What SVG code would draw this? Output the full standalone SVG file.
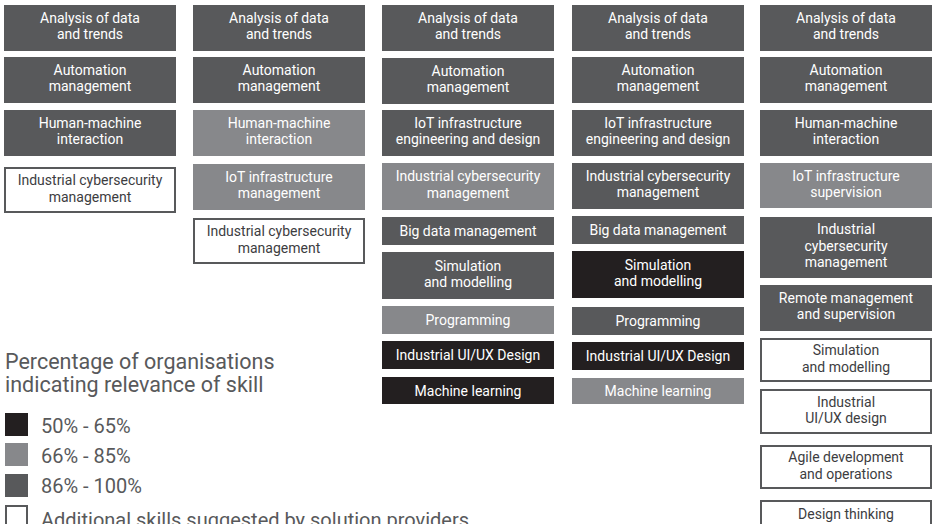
<svg xmlns="http://www.w3.org/2000/svg" width="933" height="524" viewBox="0 0 933 524">
<style>
text{font-family:Roboto,"Liberation Sans",sans-serif;font-size:14px;text-anchor:middle}
.d{fill:#58595b}.m{fill:#87888b}.b{fill:#231f20}
.o{fill:#fff;stroke:#58595b;stroke-width:2}
.w{fill:#fff}.t{fill:#3d3d3f}
.lg{font-size:20px;fill:#58595b;text-anchor:start}
.lt{font-size:21.5px}
</style>
<rect width="933" height="524" fill="#fff"/>
<!-- Column 1 -->
<g id="c1-analysis"><rect class="d" x="4" y="5" width="172" height="46"/><text class="w" x="90" y="22.5">Analysis of data</text><text class="w" x="90" y="39">and trends</text></g>
<g id="c1-automation"><rect class="d" x="4" y="57" width="172" height="46"/><text class="w" x="90" y="74.5">Automation</text><text class="w" x="90" y="91">management</text></g>
<g id="c1-hmi"><rect class="d" x="4" y="110" width="172" height="46"/><text class="w" x="90" y="127.5">Human-machine</text><text class="w" x="90" y="144">interaction</text></g>
<g id="c1-cyber"><rect class="o" x="5" y="168" width="170" height="44"/><text class="t" x="90" y="185">Industrial cybersecurity</text><text class="t" x="90" y="201.5">management</text></g>
<!-- Column 2 -->
<g id="c2-analysis"><rect class="d" x="193" y="5" width="172" height="46"/><text class="w" x="279" y="22.5">Analysis of data</text><text class="w" x="279" y="39">and trends</text></g>
<g id="c2-automation"><rect class="d" x="193" y="57" width="172" height="46"/><text class="w" x="279" y="74.5">Automation</text><text class="w" x="279" y="91">management</text></g>
<g id="c2-hmi"><rect class="m" x="193" y="110" width="172" height="46"/><text class="w" x="279" y="127.5">Human-machine</text><text class="w" x="279" y="144">interaction</text></g>
<g id="c2-iot"><rect class="m" x="193" y="164" width="172" height="46"/><text class="w" x="279" y="181.5">IoT infrastructure</text><text class="w" x="279" y="198">management</text></g>
<g id="c2-cyber"><rect class="o" x="194" y="219" width="170" height="44"/><text class="t" x="279" y="236">Industrial cybersecurity</text><text class="t" x="279" y="252.5">management</text></g>
<!-- Column 3 -->
<g id="c3-analysis"><rect class="d" x="382" y="5" width="172" height="46"/><text class="w" x="468" y="22.5">Analysis of data</text><text class="w" x="468" y="39">and trends</text></g>
<g id="c3-automation"><rect class="d" x="382" y="58" width="172" height="46"/><text class="w" x="468" y="75.5">Automation</text><text class="w" x="468" y="92">management</text></g>
<g id="c3-iot"><rect class="d" x="382" y="110" width="172" height="46"/><text class="w" x="468" y="127.5">IoT infrastructure</text><text class="w" x="468" y="144">engineering and design</text></g>
<g id="c3-cyber"><rect class="m" x="382" y="163" width="172" height="47"/><text class="w" x="468" y="181">Industrial cybersecurity</text><text class="w" x="468" y="197.5">management</text></g>
<g id="c3-bigdata"><rect class="d" x="382" y="217" width="172" height="28"/><text class="w" x="468" y="236">Big data management</text></g>
<g id="c3-sim"><rect class="d" x="382" y="252" width="172" height="47"/><text class="w" x="468" y="270.5">Simulation</text><text class="w" x="468" y="287">and modelling</text></g>
<g id="c3-prog"><rect class="m" x="382" y="306" width="172" height="28"/><text class="w" x="468" y="325">Programming</text></g>
<g id="c3-uiux"><rect class="b" x="382" y="341" width="172" height="28"/><text class="w" x="468" y="360">Industrial UI/UX Design</text></g>
<g id="c3-ml"><rect class="b" x="382" y="377" width="172" height="27"/><text class="w" x="468" y="395.5">Machine learning</text></g>
<!-- Column 4 -->
<g id="c4-analysis"><rect class="d" x="572" y="5" width="172" height="46"/><text class="w" x="658" y="22.5">Analysis of data</text><text class="w" x="658" y="39">and trends</text></g>
<g id="c4-automation"><rect class="d" x="572" y="57" width="172" height="46"/><text class="w" x="658" y="74.5">Automation</text><text class="w" x="658" y="91">management</text></g>
<g id="c4-iot"><rect class="d" x="572" y="110" width="172" height="46"/><text class="w" x="658" y="127.5">IoT infrastructure</text><text class="w" x="658" y="144">engineering and design</text></g>
<g id="c4-cyber"><rect class="d" x="572" y="163" width="172" height="46"/><text class="w" x="658" y="180.5">Industrial cybersecurity</text><text class="w" x="658" y="197">management</text></g>
<g id="c4-bigdata"><rect class="d" x="572" y="216" width="172" height="28"/><text class="w" x="658" y="235">Big data management</text></g>
<g id="c4-sim"><rect class="b" x="572" y="251" width="172" height="47"/><text class="w" x="658" y="269.5">Simulation</text><text class="w" x="658" y="286">and modelling</text></g>
<g id="c4-prog"><rect class="d" x="572" y="307" width="172" height="28"/><text class="w" x="658" y="326">Programming</text></g>
<g id="c4-uiux"><rect class="b" x="572" y="342" width="172" height="28"/><text class="w" x="658" y="361">Industrial UI/UX Design</text></g>
<g id="c4-ml"><rect class="m" x="572" y="378" width="172" height="26"/><text class="w" x="658" y="396">Machine learning</text></g>
<!-- Column 5 -->
<g id="c5-analysis"><rect class="d" x="760" y="5" width="172" height="46"/><text class="w" x="846" y="22.5">Analysis of data</text><text class="w" x="846" y="39">and trends</text></g>
<g id="c5-automation"><rect class="d" x="760" y="57" width="172" height="46"/><text class="w" x="846" y="74.5">Automation</text><text class="w" x="846" y="91">management</text></g>
<g id="c5-hmi"><rect class="d" x="760" y="110" width="172" height="46"/><text class="w" x="846" y="127.5">Human-machine</text><text class="w" x="846" y="144">interaction</text></g>
<g id="c5-iot"><rect class="m" x="760" y="163" width="172" height="45"/><text class="w" x="846" y="180.5">IoT infrastructure</text><text class="w" x="846" y="197">supervision</text></g>
<g id="c5-cyber"><rect class="d" x="760" y="217" width="172" height="61"/><text class="w" x="846" y="234">Industrial</text><text class="w" x="846" y="250.5">cybersecurity</text><text class="w" x="846" y="267">management</text></g>
<g id="c5-remote"><rect class="d" x="760" y="285" width="172" height="46"/><text class="w" x="846" y="302.5">Remote management</text><text class="w" x="846" y="319">and supervision</text></g>
<g id="c5-sim"><rect class="o" x="761" y="339" width="170" height="42"/><text class="t" x="846" y="355">Simulation</text><text class="t" x="846" y="371.5">and modelling</text></g>
<g id="c5-uiux"><rect class="o" x="761" y="390" width="170" height="43"/><text class="t" x="846" y="406.5">Industrial</text><text class="t" x="846" y="423">UI/UX design</text></g>
<g id="c5-agile"><rect class="o" x="761" y="446" width="170" height="42"/><text class="t" x="846" y="462">Agile development</text><text class="t" x="846" y="478.5">and operations</text></g>
<g id="c5-design"><rect class="o" x="761" y="501" width="170" height="26"/><text class="t" x="846" y="518.5">Design thinking</text></g>
<g id="connectors"></g>
<!-- Legend -->
<g id="legend">
<text class="lg lt" x="5" y="369">Percentage of organisations</text>
<text class="lg lt" x="5" y="392">indicating relevance of skill</text>
<rect class="b" x="5" y="413" width="23" height="23"/><text class="lg" x="41" y="433">50% - 65%</text>
<rect class="m" x="5" y="443" width="23" height="23"/><text class="lg" x="41" y="463">66% - 85%</text>
<rect class="d" x="5" y="474" width="23" height="23"/><text class="lg" x="41" y="493">86% - 100%</text>
<rect class="o" x="6" y="506" width="21" height="21"/><text class="lg" x="41" y="527">Additional skills suggested by solution providers</text>
</g>
</svg>
